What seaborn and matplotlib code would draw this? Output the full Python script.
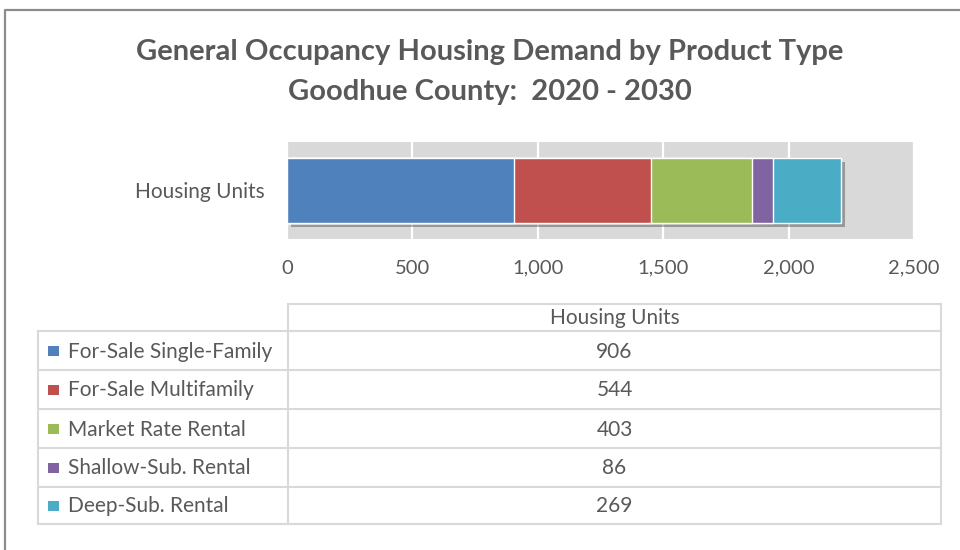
import numpy as np
import pandas as pd
import seaborn as sns
import matplotlib.pyplot as plt
from matplotlib import patheffects as pe
from matplotlib.patches import Rectangle

categories = ["For-Sale Single-Family", "For-Sale Multifamily", "Market Rate Rental",
              "Shallow-Sub. Rental", "Deep-Sub. Rental"]
values = [906, 544, 403, 86, 269]
colors = ["#4F81BD", "#C0504D", "#9BBB59", "#8064A2", "#4BACC6"]
row_label = "Housing Units"
x_ticks = [0, 500, 1000, 1500, 2000, 2500]
title_lines = ["General Occupancy Housing Demand by Product Type",
               "Goodhue County:  2020 - 2030"]

sns.set_theme(style="white")
plt.rcParams['font.family'] = ['Lato', 'DejaVu Sans']
TXT = '#595959'
GRID = '#D9D9D9'

W, H = 960, 550
fig = plt.figure(figsize=(9.6, 5.5), dpi=100)
fig.patch.set_facecolor('white')


def fx(px):
    return px / W


def fy(py):
    return 1 - py / H


# overlay axes in pixel coordinates for frame, title and table
bg = fig.add_axes([0, 0, 1, 1])
bg.set_xlim(0, W)
bg.set_ylim(H, 0)
bg.axis('off')
bg.plot([5, 5, W + 5], [H + 5, 10, 10], color='#8C8C8C', lw=1.6, solid_capstyle='butt')

bg.text(490, 52, title_lines[0], ha='center', va='center', fontsize=21,
        fontweight='bold', color=TXT)
bg.text(490, 92, title_lines[1], ha='center', va='center', fontsize=21,
        fontweight='bold', color=TXT)

# bar chart
ax = fig.add_axes([fx(287), fy(239), fx(914 - 287), (239 - 142) / H])
ax.set_facecolor(GRID)
ax.set_axisbelow(True)

cum = np.cumsum(values)
df = pd.DataFrame({"label": [row_label] * len(values), "category": categories,
                   "value": values, "cum": cum})
for i in reversed(range(len(values))):
    sns.barplot(data=df.iloc[[i]], x="cum", y="label", color=colors[i], width=0.67,
                ax=ax, saturation=1, orient='h', errorbar=None)
    if i == len(values) - 1:
        ax.patches[-1].set_path_effects([
            pe.SimplePatchShadow(offset=(3, -3), shadow_rgbFace='black', alpha=0.3),
            pe.Normal()])

ax.set_xlim(0, 2500)
ax.set_xticks(x_ticks)
ax.set_xticklabels([f"{t:,}" for t in x_ticks])
ax.set_xlabel('')
ax.set_ylabel('')
ax.xaxis.grid(True, color='white', lw=1.6)
ax.yaxis.grid(False)
for s in ax.spines.values():
    s.set_visible(False)
ax.tick_params(axis='x', length=0, pad=15, labelsize=14.5, labelcolor=TXT)
ax.tick_params(axis='y', length=0, pad=16, labelsize=15, labelcolor=TXT)

# data table
col_left, col_div, col_right = 38, 288, 941
head_top, head_bot = 304, 331
rows = [331, 370, 409, 448, 487, 524]
lw = 1.5
FS = 15
bg.add_patch(Rectangle((col_div, head_top), col_right - col_div, head_bot - head_top,
                       fill=False, edgecolor=GRID, lw=lw))
bg.add_patch(Rectangle((col_left, rows[0]), col_right - col_left, rows[-1] - rows[0],
                       fill=False, edgecolor=GRID, lw=lw))
bg.plot([col_div, col_div], [rows[0], rows[-1]], color=GRID, lw=lw)
for r in rows[1:-1]:
    bg.plot([col_left, col_right], [r, r], color=GRID, lw=lw)
xc = (col_div + col_right) / 2
bg.text(xc, (head_top + head_bot) / 2 + 1, row_label, ha='center', va='center',
        fontsize=FS, color=TXT)
for i, (cat, val, col) in enumerate(zip(categories, values, colors)):
    yc = (rows[i] + rows[i + 1]) / 2
    bg.add_patch(Rectangle((48, yc - 5), 10.5, 10.5, facecolor=col, edgecolor='none'))
    bg.text(68, yc + 1, cat, ha='left', va='center', fontsize=FS, color=TXT)
    bg.text(xc, yc + 1, f"{val:,}", ha='center', va='center', fontsize=FS, color=TXT)

fig.savefig('out.png', dpi=100)
